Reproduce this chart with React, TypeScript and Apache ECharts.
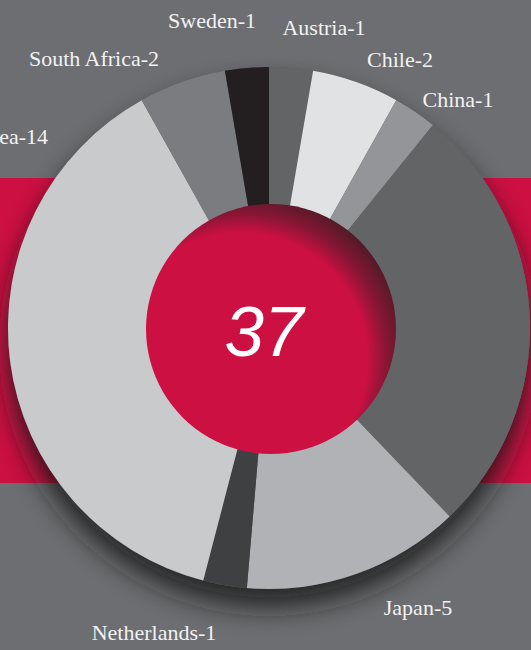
import React, { useEffect, useRef } from "react";
import * as echarts from "echarts";

// ---- data ----
const countries = ["Austria", "Chile", "China", "United States", "Japan", "Netherlands", "Korea", "South Africa", "Sweden"];
const counts = [1, 2, 1, 10, 5, 1, 14, 2, 1];
const sliceColors = ["#636466", "#e1e2e3", "#949598", "#636466", "#b1b2b5", "#3f4042", "#c9cacc", "#7b7c7f", "#231f20"];
const totalLabel = String(counts.reduce((a, b) => a + b, 0));

// ---- label layout (pixel anchors for each slice label; null = hidden) ----
const labelAnchors: ([number, number, string] | null)[] = [
  [324, 27, "center"],
  [400, 59, "center"],
  [458, 99, "center"],
  null,
  [418, 607, "center"],
  [154, 632, "center"],
  [48, 136, "right"],
  [94, 58, "center"],
  [212, 20, "center"],
];

const BG = "#6d6e71";
const RED = "#cd1042";

export default function App() {
  const ref = useRef<HTMLDivElement>(null);

  useEffect(() => {
    if (!ref.current) return;
    const chart = echarts.init(ref.current, undefined, { renderer: "svg" });
    const cx = 269;
    const cy = 328;
    const R = 261;

    const data = countries.map((name, i) => ({
      name,
      value: counts[i],
      itemStyle: { color: sliceColors[i] },
      label: { show: labelAnchors[i] !== null },
    }));

    chart.setOption({
      animation: false,
      backgroundColor: BG,
      graphic: [
        {
          type: "rect",
          z: 0,
          silent: true,
          shape: { x: 0, y: 178, width: 531, height: 305 },
          style: { fill: RED },
        },
        {
          type: "circle",
          z: 10,
          silent: true,
          shape: { cx: 271, cy: 329, r: 125 },
          style: {
            fill: new echarts.graphic.RadialGradient(0.38, 0.62, 0.68, [
              { offset: 0, color: RED },
              { offset: 0.74, color: RED },
              { offset: 0.86, color: "#861634" },
              { offset: 1, color: "#4a1b26" },
            ]),
          },
        },
        {
          type: "text",
          z: 11,
          silent: true,
          x: 264,
          y: 331,
          style: {
            text: totalLabel,
            fill: "#ffffff",
            fontSize: 71,
            fontStyle: "italic",
            fontWeight: 300,
            fontFamily: "Liberation Sans",
            align: "center",
            verticalAlign: "middle",
          },
        },
      ],
      series: [
        {
          type: "pie",
          z: 1,
          silent: true,
          center: [cx, cy],
          radius: [0, R],
          label: { show: false },
          labelLine: { show: false },
          itemStyle: {
            color: "#5a5a5c",
            shadowBlur: 28,
            shadowOffsetY: 18,
            shadowColor: "rgba(25,18,20,0.85)",
          },
          data: [{ value: 1, name: "shadow" }],
        },
        {
          type: "pie",
          z: 2,
          silent: true,
          center: [cx, cy],
          radius: [100, R],
          startAngle: 90,
          clockwise: true,
          avoidLabelOverlap: false,
          label: {
            position: "outside",
            formatter: "{b}-{c}",
            color: "#f2f2f3",
            fontSize: 22,
            fontFamily: "Liberation Serif",
          },
          labelLine: { show: false },
          labelLayout: (p: any) => {
            const a = labelAnchors[p.dataIndex];
            if (!a) return {};
            return { x: a[0], y: a[1], align: a[2], verticalAlign: "middle" };
          },
          data,
        },
      ],
    });

    return () => chart.dispose();
  }, []);

  return (
    <div
      ref={ref}
      style={{ position: "absolute", left: 0, top: 0, width: 531, height: 650 }}
    />
  );
}
